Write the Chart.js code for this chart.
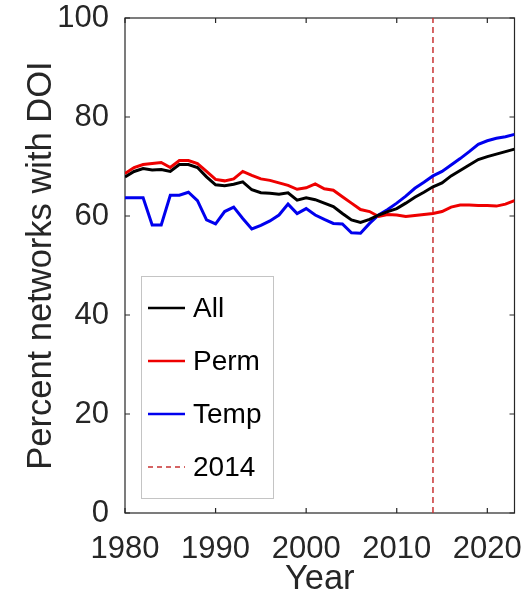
<!DOCTYPE html>
<html>
<head>
<meta charset="utf-8">
<script src="https://cdn.jsdelivr.net/npm/chart.js@4.4.1/dist/chart.umd.min.js"></script>
<style>
html,body{margin:0;padding:0;background:#fff;}
#wrap{width:532px;height:597px;position:relative;}
</style>
</head>
<body>
<div id="wrap"><canvas id="c"></canvas></div>
<script>
// ---- data ----
const years = [1980,1981,1982,1983,1984,1985,1986,1987,1988,1989,
               1990,1991,1992,1993,1994,1995,1996,1997,1998,1999,
               2000,2001,2002,2003,2004,2005,2006,2007,2008,2009,
               2010,2011,2012,2013,2014,2015,2016,2017,2018,2019,
               2020,2021,2022,2023];
const allPct  = [67.9,69.0,69.6,69.3,69.4,69.0,70.4,70.4,69.8,67.9,
                 66.3,66.1,66.4,66.9,65.3,64.7,64.6,64.4,64.7,63.2,
                 63.7,63.3,62.6,61.9,60.5,59.2,58.7,59.3,60.2,60.9,
                 61.5,62.6,63.8,64.8,65.9,66.7,68.1,69.2,70.3,71.4,
                 72.0,72.5,73.0,73.5];
const permPct = [68.6,69.8,70.4,70.6,70.8,69.8,71.2,71.2,70.6,69.0,
                 67.4,67.1,67.5,69.0,68.2,67.5,67.2,66.7,66.2,65.4,
                 65.7,66.5,65.5,65.2,63.9,62.6,61.3,60.9,59.9,60.3,
                 60.2,59.9,60.1,60.3,60.5,60.9,61.8,62.2,62.2,62.1,
                 62.1,62.0,62.4,63.1];
const tempPct = [63.7,63.7,63.7,58.2,58.2,64.2,64.2,64.8,63.1,59.2,
                 58.4,60.9,61.8,59.5,57.4,58.1,59.0,60.2,62.4,60.5,
                 61.5,60.2,59.3,58.5,58.4,56.6,56.5,58.5,60.2,61.3,
                 62.6,64.0,65.6,66.8,68.1,69.0,70.3,71.6,73.0,74.5,
                 75.2,75.7,76.0,76.5];
const markerYear = 2014;
const markerSpan = [0, 100];
const seriesLabels = ['All', 'Perm', 'Temp', '2014'];
const xTickValues = [1980, 1990, 2000, 2010, 2020];
const yTickValues = [0, 20, 40, 60, 80, 100];
const xRange = [1980, 2023];
const yRange = [0, 100];
const xTitle = 'Year';
const yTitle = 'Percent networks with DOI';

// ---- styles ----
const FONT = '"Liberation Sans", Arial, Helvetica, sans-serif';
const AXIS_COLOR = '#262626';

const toPts = (vals) => vals.map((v, i) => ({x: years[i], y: v}));

const boxPlugin = {
  id: 'boxPlugin',
  beforeDatasetsDraw(chart) {
    const {ctx, chartArea: a, scales: {x, y}} = chart;
    ctx.save();
    ctx.strokeStyle = AXIS_COLOR;
    ctx.lineWidth = 1.2;
    ctx.strokeRect(a.left, a.top, a.right - a.left, a.bottom - a.top);
    const tl = 5;
    ctx.beginPath();
    x.ticks.forEach(t => {
      const p = x.getPixelForValue(t.value);
      ctx.moveTo(p, a.bottom); ctx.lineTo(p, a.bottom - tl);
      ctx.moveTo(p, a.top); ctx.lineTo(p, a.top + tl);
    });
    y.ticks.forEach(t => {
      const p = y.getPixelForValue(t.value);
      ctx.moveTo(a.left, p); ctx.lineTo(a.left + tl, p);
      ctx.moveTo(a.right, p); ctx.lineTo(a.right - tl, p);
    });
    ctx.stroke();
    ctx.restore();
  }
};

const legendPlugin = {
  id: 'legendPlugin',
  afterDatasetsDraw(chart) {
    const ctx = chart.ctx;
    const L = {left: 141, top: 276, width: 132, height: 222,
               rowTop: 308, rowGap: 53, x0: 148, x1: 185, textX: 193};
    ctx.save();
    ctx.fillStyle = '#fff';
    ctx.fillRect(L.left, L.top, L.width, L.height);
    ctx.strokeStyle = '#c4c4c4';
    ctx.lineWidth = 1;
    ctx.strokeRect(L.left + 0.5, L.top + 0.5, L.width, L.height);
    chart.data.datasets.forEach((ds, i) => {
      const yy = L.rowTop + i * L.rowGap;
      ctx.beginPath();
      ctx.setLineDash(ds.legendDash || []);
      ctx.strokeStyle = ds.borderColor;
      ctx.lineWidth = ds.legendWidth;
      ctx.moveTo(L.x0, yy); ctx.lineTo(L.x1, yy);
      ctx.stroke();
      ctx.setLineDash([]);
      ctx.fillStyle = '#000';
      ctx.font = '28px ' + FONT;
      ctx.textBaseline = 'middle';
      ctx.textAlign = 'left';
      ctx.fillText(ds.label, L.textX, yy + 1);
    });
    ctx.restore();
  }
};

new Chart(document.getElementById('c'), {
  type: 'line',
  data: {
    datasets: [
      {label: seriesLabels[0], data: toPts(allPct), borderColor: '#000000', borderWidth: 3, legendWidth: 2.5},
      {label: seriesLabels[1], data: toPts(permPct), borderColor: '#ee0000', borderWidth: 3, legendWidth: 2.5},
      {label: seriesLabels[2], data: toPts(tempPct), borderColor: '#0000ee', borderWidth: 3, legendWidth: 2.5},
      {label: seriesLabels[3], data: markerSpan.map(v => ({x: markerYear, y: v})),
       borderColor: '#c83232', borderWidth: 1.5, borderDash: [6, 4], legendDash: [5, 4], legendWidth: 1.5}
    ].map(d => Object.assign({pointRadius: 0, pointHoverRadius: 0, fill: false, tension: 0}, d))
  },
  options: {
    responsive: true,
    maintainAspectRatio: false,
    animation: false,
    devicePixelRatio: 1,
    layout: {padding: {left: 0, top: 18, right: 17.5, bottom: 0}},
    plugins: {legend: {display: false}, tooltip: {enabled: false}},
    scales: {
      x: {
        type: 'linear',
        min: xRange[0], max: xRange[1],
        grid: {display: false, drawTicks: false},
        border: {display: false},
        afterBuildTicks: (s) => { s.ticks = xTickValues.map(v => ({value: v})); },
        afterFit: (s) => { s.height = 84; s.paddingLeft = 0; s.paddingRight = 0; },
        ticks: {
          autoSkip: false, maxRotation: 0, padding: 18, color: AXIS_COLOR,
          font: {family: FONT, size: 31},
          callback: (v) => String(v)
        },
        title: {display: true, text: xTitle, color: AXIS_COLOR,
                font: {family: FONT, size: 34.5, lineHeight: 1}, padding: {top: 0, bottom: 0}}
      },
      y: {
        min: yRange[0], max: yRange[1],
        grid: {display: false, drawTicks: false},
        border: {display: false},
        afterBuildTicks: (s) => { s.ticks = yTickValues.map(v => ({value: v})); },
        afterFit: (s) => { s.width = 125; s.paddingTop = 0; s.paddingBottom = 0; },
        ticks: {
          padding: 16, color: AXIS_COLOR,
          font: {family: FONT, size: 31},
          callback: (v) => String(v)
        },
        title: {display: true, text: yTitle, color: AXIS_COLOR,
                font: {family: FONT, size: 34.5, lineHeight: 1}, padding: {top: 24, bottom: 0}}
      }
    }
  },
  plugins: [boxPlugin, legendPlugin]
});
</script>
</body>
</html>
